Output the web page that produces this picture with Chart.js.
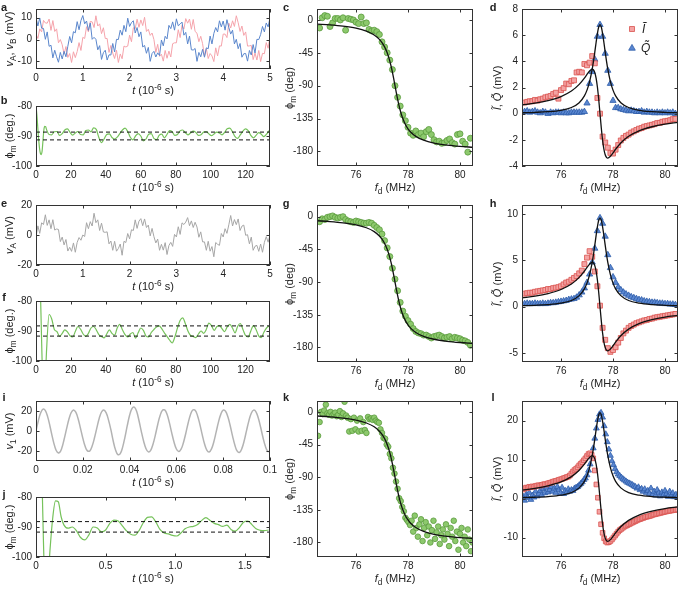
<!DOCTYPE html>
<html>
<head>
<meta charset="utf-8">
<script src="https://cdn.jsdelivr.net/npm/chart.js@4.4.1/dist/chart.umd.min.js"></script>
<style>
  body { margin: 0; background: #fff; }
  #fig { position: relative; width: 685px; height: 591px; overflow: hidden;
         font-family: "Liberation Sans", Arial, Helvetica, sans-serif; color: #222; }
  #fig canvas { position: absolute; }
  .lbl { position: absolute; font-size: 11px; white-space: nowrap; transform: translate(-50%, -50%); }
  .rot { transform: translate(-50%, -50%) rotate(-90deg); }
  .pl { font-weight: bold; font-size: 11px; }
  sub, sup { font-size: 75%; line-height: 0; position: relative; vertical-align: baseline; }
  sub { top: 0.35em; }
  sup { top: -0.45em; }
</style>
</head>
<body>
<div id="fig"></div>
<script>
// ---- time traces (a, e) ----
const tA = [0,0.04,0.08,0.12,0.16,0.2,0.24,0.28,0.32,0.36,0.4,0.44,0.48,0.52,0.56,0.6,0.64,0.68,0.72,0.76,0.8,0.84,0.88,0.92,0.96,
  1,1.04,1.08,1.12,1.16,1.2,1.24,1.28,1.32,1.36,1.4,1.44,1.48,1.52,1.56,1.6,1.64,1.68,1.72,1.76,1.8,1.84,1.88,1.92,1.96,
  2,2.04,2.08,2.12,2.16,2.2,2.24,2.28,2.32,2.36,2.4,2.44,2.48,2.52,2.56,2.6,2.64,2.68,2.72,2.76,2.8,2.84,2.88,2.92,2.96,
  3,3.04,3.08,3.12,3.16,3.2,3.24,3.28,3.32,3.36,3.4,3.44,3.48,3.52,3.56,3.6,3.64,3.68,3.72,3.76,3.8,3.84,3.88,3.92,3.96,
  4,4.04,4.08,4.12,4.16,4.2,4.24,4.28,4.32,4.36,4.4,4.44,4.48,4.52,4.56,4.6,4.64,4.68,4.72,4.76,4.8,4.84,4.88,4.92,4.96,5];
const vA = [2.5,0.5,4.9,3.5,8.8,7.6,7.5,9.4,4.2,8.7,3.7,4.9,-1.5,0.0,-2.4,-6.7,-3.2,-8.2,-6.4,-10.5,-5.6,-8.3,-5.5,-1.4,-5.0,
  1.0,0.5,5.9,3.5,8.3,8.1,5.5,10.9,6.2,7.2,2.7,5.4,0.5,0.5,-5.9,-2.7,-6.2,-8.7,-4.9,-10.5,-6.6,-8.8,-3.0,-3.4,-3.0,
  2.0,-1.0,5.4,5.0,9.3,5.6,9.0,6.4,10.2,3.7,4.7,1.9,3.0,0.0,-5.9,-2.2,-7.7,-6.7,-9.9,-5.0,-8.6,-5.3,-8.0,-1.9,-1.5,
  -1.5,4.5,0.9,6.5,4.8,9.6,7.5,9.4,4.7,9.2,3.7,2.9,-1.0,1.5,-1.9,-7.7,-4.2,-8.7,-6.4,-7.5,-10.1,-3.8,-7.5,-2.9,-3.0,
  2.5,2.5,0.9,7.5,5.3,8.6,6.0,10.9,7.7,3.7,6.2,1.9,3.5,-3.0,-2.9,-2.7,-9.2,-6.2,-9.4,-5.0,-10.1,-6.3,-6.5,-1.4,-4.0,1.5];
const vB = [10.0,6.2,9.9,5.2,5.1,0.1,3.5,-3.1,-2.6,-8.4,-4.9,-7.9,-10.4,-5.9,-8.9,-5.4,-7.9,-3.1,1.4,-1.5,3.6,3.1,8.2,4.5,8.7,
  11.0,7.2,8.5,4.2,7.6,0.1,1.0,0.1,-4.7,-2.8,-9.1,-6.0,-4.9,-9.4,-7.0,-7.1,-1.8,-5.7,0.1,0.0,4.3,2.0,6.5,3.6,9.8,
  6.0,7.8,8.6,3.0,5.5,1.3,3.5,-3.4,-2.7,-6.3,-3.6,-10.0,-6.4,-5.4,-8.0,-6.1,-7.3,-0.2,-2.9,1.5,0.3,6.5,5.0,8.1,4.3,
  9.5,6.3,7.1,8.0,2.0,3.3,-2.0,1.6,-4.7,-4.8,-4.1,-10.0,-5.9,-7.9,-4.5,-8.1,-3.8,-4.2,1.6,-2.0,2.8,5.5,3.5,8.6,5.8,
  8.5,4.3,9.1,5.5,2.5,4.3,-2.0,0.1,-4.2,-1.8,-8.1,-6.5,-6.4,-9.9,-5.0,-7.1,-2.3,-6.2,0.1,0.0,2.3,6.0,3.5,7.6,5.8,10.0];
const vAe = [-1.3,6.1,1.1,8.1,7.0,13.5,6.4,10.1,4.2,10.2,3.3,4.0,3.7,-4.4,-1.4,-6.6,-3.0,-10.7,-8.2,-10.9,-5.3,-11.5,-4.9,-1.7,-3.5,
  0.0,-1.0,8.2,4.2,8.9,6.0,14.5,8.2,10.1,3.0,7.9,2.0,1.8,2.1,-5.9,-4.0,-10.2,-4.2,-10.8,-9.0,-6.0,-13.5,-4.2,-5.0,1.0,
  -2.6,3.5,3.0,10.1,4.4,9.2,10.9,6.2,10.7,5.0,6.6,-0.6,4.4,-1.1,-5.3,-2.7,-10.2,-6.2,-10.1,-5.1,-13.0,-7.0,-4.9,-7.6,0.4,
  -1.3,5.5,0.4,8.1,7.0,8.6,11.6,6.2,9.4,5.0,8.5,5.3,-1.5,2.1,-4.6,-4.6,-10.2,-4.2,-10.8,-7.7,-14.5,-5.0,-6.2,-6.9,1.0,
  -1.3,4.2,1.1,6.8,13.0,6.0,10.3,6.9,10.7,3.0,5.9,6.6,-0.2,0.2,-5.9,-1.4,-10.2,-7.5,-6.9,-10.9,-6.0,-11.5,-4.9,-1.1,-4.8,0.0];

// ---- time trace (i) ----
const tI = [0,0.001,0.002,0.003,0.004,0.005,0.006,0.007,0.008,0.009,
  0.01,0.011,0.012,0.013,0.014,0.015,0.016,0.017,0.018,0.019,
  0.02,0.021,0.022,0.023,0.024,0.025,0.026,0.027,0.028,0.029,
  0.03,0.031,0.032,0.033,0.034,0.035,0.036,0.037,0.038,0.039,
  0.04,0.041,0.042,0.043,0.044,0.045,0.046,0.047,0.048,0.049,
  0.05,0.051,0.052,0.053,0.054,0.055,0.056,0.057,0.058,0.059,
  0.06,0.061,0.062,0.063,0.064,0.065,0.066,0.067,0.068,0.069,
  0.07,0.071,0.072,0.073,0.074,0.075,0.076,0.077,0.078,0.079,
  0.08,0.081,0.082,0.083,0.084,0.085,0.086,0.087,0.088,0.089,
  0.09,0.091,0.092,0.093,0.094,0.095,0.096,0.097,0.098,0.099,0.1];
const v1 = [0,10.3,18.2,21.9,20.4,14.1,4.5,-6.1,-15.3,-20.9,
  -21.7,-17.3,-8.5,1.6,11.2,18.2,21.0,18.8,12.2,2.8,
  -7.1,-15.3,-19.9,-19.9,-15.1,-6.8,3.1,12.5,19.0,21.0,
  18.1,10.9,1.3,-10.0,-19.1,-23.7,-22.7,-16.4,-6.3,5.3,
  15.7,22.4,23.8,19.7,10.5,-0.3,-10.2,-17.6,-20.9,-19.3,
  -13.2,-4.1,6.3,15.2,20.6,21.1,16.7,8.4,-1.8,-11.2,
  -18.0,-20.5,-18.2,-11.7,-2.5,7.8,16.3,21.0,20.7,15.6,
  6.9,-3.4,-12.8,-19.1,-21.0,-17.9,-10.7,-0.9,9.1,16.9,
  20.8,19.8,14.2,5.2,-5.1,-14.3,-20.2,-21.3,-17.4,-9.5,
  0.7,10.4,17.8,20.9,19.2,13.0,3.7,-6.5,-15.1,-20.2,-20.5];

// ---- demodulated phase (b, f, j) ----
const tB = [0,0.5,1,1.5,2,2.5,3,3.5,4,4.5,5,5.5,6,
  7.5,9,10.5,12,13.5,15,16.5,18,19.5,21,22.5,24,25.5,27,28.5,30,31.5,33,34.5,36,37.5,39,40.5,42,43.5,45,46.5,48,49.5,51,
  52.5,54,55.5,57,58.5,60,61.5,63,64.5,66,67.5,69,70.5,72,73.5,75,76.5,78,79.5,81,82.5,84,85.5,87,88.5,90,91.5,93,94.5,
  96,97.5,99,100.5,102,103.5,105,106.5,108,109.5,111,112.5,114,115.5,117,118.5,120,121.5,123,124.5,126,127.5,129,130.5,132,133.5];
const phiB = [-80,-83,-87,-91,-94,-95.8,-96.2,-95,-91.5,-88,-86.8,-86.9,-87.8,
  -89.5,-89.6,-88.6,-88.5,-89.8,-89.2,-88.0,-87.6,-88.8,-89.7,
  -89.0,-88.5,-89.5,-89.6,-88.2,-88.0,-88.6,-87.3,-87.8,-90.5,
  -92.2,-91.0,-89.5,-89.3,-90.5,-91.0,-90.4,-89.2,-88.0,-87.4,
  -88.5,-90.4,-91.3,-90.0,-89.2,-90.0,-91.6,-91.0,-89.4,-89.2,
  -90.8,-91.2,-89.8,-89.4,-90.6,-89.5,-88.2,-88.6,-89.8,-89.5,
  -88.3,-88.0,-88.9,-89.6,-89.0,-88.4,-88.8,-89.8,-89.6,-88.7,
  -88.5,-89.3,-89.9,-89.3,-88.7,-89.0,-89.6,-88.8,-87.6,-87.4,
  -88.6,-90.2,-90.8,-89.6,-88.4,-87.6,-88.2,-89.8,-90.6,-89.8,
  -88.9,-89.4,-90.2,-89.4,-88.2];
const phiF = [-75,-66,-60,-60,-66,-76,-88,-100,-108,-112,-110,-104,-97,
  -84.5,-86.0,-89.5,-90.2,-91.8,-90.8,-89.6,-90.3,-91.6,-92.0,
  -90.2,-88.5,-89.4,-91.0,-91.8,-90.8,-89.0,-88.5,-89.6,-91.2,
  -91.8,-92.3,-91.0,-89.6,-90.8,-91.4,-89.0,-87.8,-89.6,-91.2,
  -92.0,-91.0,-90.5,-92.4,-90.6,-89.0,-89.8,-91.7,-92.0,-90.5,
  -89.5,-88.7,-88.3,-89.2,-90.6,-91.8,-93.0,-94.0,-92.0,-89.0,
  -86.5,-85.6,-87.5,-90.0,-91.5,-91.8,-92.2,-91.0,-90.0,-90.8,
  -89.5,-87.4,-88.2,-89.8,-88.6,-88.2,-89.2,-90.2,-88.6,-87.8,
  -89.0,-90.6,-88.4,-87.5,-89.5,-91.5,-92.0,-90.0,-88.2,-89.5,
  -91.6,-92.2,-90.4,-89.0,-88.3];
const tJ = [0,0.02,0.04,0.06,0.08,0.1,0.12,0.14,0.16,0.18,0.2,
  0.23,0.26,0.29,0.32,0.35,0.38,0.41,0.44,0.47,0.5,0.53,0.56,0.59,0.62,0.65,0.68,0.71,0.74,0.77,0.8,
  0.83,0.86,0.89,0.92,0.95,0.98,1.01,1.04,1.07,1.1,1.13,1.16,1.19,1.22,1.25,1.28,1.31,1.34,1.37,1.4,
  1.43,1.46,1.49,1.52,1.55,1.58,1.61,1.64,1.67];
const phiJ = [-60,-55,-70,-105,-112,-98,-87,-81.3,-81.6,-86.5,-89.3,
  -90.4,-90.0,-91.2,-93.5,-94.3,-92.6,-90.0,-90.3,-91.6,-91.0,-88.8,-87.7,-88.0,-89.6,-91.3,-92.4,-92.7,-91.2,-88.6,-86.8,
  -86.6,-88.3,-90.8,-92.0,-92.3,-92.8,-93.0,-92.0,-90.6,-90.0,-89.8,-89.2,-87.8,-86.9,-87.8,-88.8,-89.2,-89.8,-89.4,-90.8,
  -91.4,-90.2,-88.4,-88.0,-89.2,-90.6,-91.1,-91.2,-91.0];
const dashB = [-88.7, -91.3];
const dashF = [-88.3, -91.7];
const dashJ = [-88.2, -91.7];

// ---- frequency sweeps ----
const freqC = [74.6,74.7,74.8,74.9,75.0,75.1,75.2,75.3,75.4,75.5,75.6,75.7,75.8,75.9,76.0,76.1,76.2,76.3,76.4,76.5,
  76.6,76.7,76.8,76.9,77.0,77.1,77.2,77.3,77.4,77.5,77.6,77.7,77.8,77.9,78.0,78.1,78.2,78.3,78.4,78.5,
  78.6,78.7,78.8,78.9,79.0,79.1,79.2,79.3,79.4,79.5,79.6,79.7,79.8,79.9,80.0,80.1,80.2,80.3,80.4];
const phiC = [-11,3,6,5,-9,-4,2,2,0,3,-14,2,1,0,-3,-5,4,-5,-4,-13,
  -15,-14,-16,-20,-30,-37,-45,-55,-68,-90,-106,-118,-130,-138,-147,-155,-158,-152,-157,-155,
  -160,-153,-150,-157,-164,-167,-166,-169,-168,-165,-163,-168,-170,-157,-156,-166,-170,-181,-162];
const iD = [0.85,0.9,0.95,0.95,1.05,1.0,1.1,1.15,1.25,1.3,1.35,1.5,1.6,1.15,1.8,1.95,2.3,2.25,2.5,2.55,
  3.15,3.2,3.15,3.8,3.7,3.9,4.4,3.85,1.2,0.0,-1.75,-2.2,-2.6,-3.0,-3.05,-2.75,-2.4,-2.05,-1.85,-1.7,
  -1.6,-1.45,-1.35,-1.25,-1.15,-1.1,-1.0,-0.95,-0.9,-0.85,-0.8,-0.72,-0.7,-0.62,-0.58,-0.55,-0.5,-0.42,-0.4];
const qD = [0.15,0.2,0.1,0.15,0.2,0.1,0.05,0.15,0.1,0.0,0.1,0.05,0.1,0.1,0.05,0.1,0.05,0.05,0.1,0.1,
  0.1,0.1,0.1,0.15,0.8,2.3,3.2,4.15,5.9,6.8,5.9,4.6,3.3,2.3,1.0,0.45,0.45,0.35,0.3,0.25,
  0.2,0.25,0.2,0.15,0.15,0.2,0.1,0.15,0.1,0.1,0.05,0.1,0.05,0.1,0.05,0.1,0.05,0.1,0.0];
const phiG = [-7,-3,-4,-1,0,1,-1,-2,-1,0,-4,-6,-7,-8,-6,-7,-8,-9,-9,-8,
  -9,-12,-15,-18,-24,-33,-43,-55,-71,-86,-102,-118,-130,-137,-143,-148,-154,-158,-160,-161,
  -163,-163,-165,-167,-165,-164,-163,-165,-167,-166,-165,-168,-166,-167,-168,-170,-171,-173,-177];
const iH = [1.4,1.45,1.5,1.5,1.6,1.65,1.7,1.75,1.8,1.9,1.9,2.0,2.05,2.1,2.2,2.4,2.6,2.7,2.9,3.1,
  3.3,3.6,3.9,4.6,5.3,6.0,5.4,3.8,2.2,0.1,-2.3,-3.6,-4.5,-4.9,-4.7,-4.4,-3.9,-3.4,-2.9,-2.6,
  -2.3,-2.1,-1.95,-1.8,-1.7,-1.6,-1.5,-1.45,-1.35,-1.3,-1.2,-1.15,-1.1,-1.05,-1.0,-0.95,-0.9,-0.85,-0.8];
const qH = [0.3,0.35,0.3,0.3,0.35,0.3,0.3,0.35,0.3,0.35,0.4,0.4,0.45,0.5,0.55,0.6,0.65,0.75,0.8,0.85,
  1.0,1.25,1.55,2.0,2.6,3.5,4.8,6.3,8.2,9.6,9.0,7.6,5.6,4.2,3.2,2.6,2.1,1.8,1.55,1.35,
  1.2,1.05,0.95,0.85,0.75,0.7,0.6,0.55,0.5,0.45,0.45,0.4,0.35,0.35,0.3,0.3,0.25,0.25,0.2];
const freqK = [74.54,74.60,74.66,74.72,74.78,74.84,74.90,74.96,75.02,75.08,75.14,75.20,75.26,75.32,75.38,75.44,75.50,75.56,75.62,75.68,
  75.74,75.80,75.86,75.92,75.98,76.04,76.10,76.16,76.22,76.28,76.34,76.40,76.46,76.52,76.58,76.64,76.70,76.76,76.82,76.88,
  76.94,77.00,77.06,77.12,77.18,77.24,77.30,77.36,77.42,77.48,77.54,77.60,77.66,77.72,77.78,77.84,77.90,77.96,78.02,78.08,
  78.14,78.20,78.26,78.32,78.38,78.44,78.50,78.56,78.62,78.68,78.74,78.80,78.86,78.92,78.98,79.04,79.10,79.16,79.22,79.28,
  79.34,79.40,79.46,79.52,79.58,79.64,79.70,79.76,79.82,79.88,79.94,80.00,80.06,80.12,80.18,80.24,80.30,80.36,80.42,80.48];
const phiK = [-33,-14,0,-3,2,10,-2,-4,0,-5,-3,-1,-6,-4,1,-7,-2,14,-5,-8,
  -27,-10,-26,-8,-24,-12,-27,-9,-26,-14,-25,-29,-7,-10,-9,-11,-8,-12,-14,-15,
  -24,-29,-36,-37,-45,-48,-58,-64,-77,-85,-96,-106,-119,-123,-131,-137,-146,-149,-152,-156,
  -150,-165,-143,-160,-172,-155,-148,-178,-160,-152,-170,-158,-180,-163,-150,-175,-166,-158,-182,-170,
  -162,-176,-155,-168,-185,-160,-172,-150,-178,-165,-190,-168,-160,-180,-172,-185,-162,-176,-192,-180];
const iL = [2.3,2.6,2.8,2.7,3.0,2.9,3.1,3.0,3.2,3.3,3.4,3.3,3.5,3.6,3.7,3.6,3.9,4.0,4.1,4.3,
  4.4,4.5,4.6,4.8,4.9,5.0,5.2,5.3,5.5,5.6,5.9,6.4,6.9,7.3,7.6,8.0,8.5,8.9,9.3,9.8,
  10.3,10.9,11.4,11.6,11.2,10.3,7.2,3.6,0.2,-3.4,-6.6,-8.8,-10.2,-11.0,-11.3,-11.2,-10.9,-10.5,-10.0,-9.5,
  -9.0,-8.5,-8.1,-7.8,-7.5,-7.2,-7.0,-6.8,-6.6,-6.4,-6.2,-6.0,-5.8,-5.6,-5.4,-5.3,-5.1,-5.0,-4.8,-4.7,
  -4.6,-4.5,-4.4,-4.2,-4.1,-4.0,-3.9,-3.8,-3.7,-3.6,-3.5,-3.4,-3.3,-3.2,-3.15,-3.1,-3.0,-2.95,-2.9,-2.8];
const qL = [0.5,-0.5,1.0,0.2,1.5,-0.3,0.8,0.3,1.8,0.6,1.2,2.0,0.9,2.5,1.4,2.8,1.6,2.2,3.0,1.8,
  2.6,1.5,3.0,2.2,1.4,2.8,1.2,2.0,1.6,2.4,1.8,2.2,2.0,2.6,2.8,3.0,3.4,3.8,4.2,4.8,
  5.2,6.0,7.2,8.8,10.6,12.9,15.4,18.0,20.2,21.6,22.0,20.8,18.6,16.5,14.5,12.6,11.0,9.6,8.6,7.6,
  6.8,6.2,5.8,5.4,5.0,4.7,4.4,4.1,3.9,3.7,3.5,3.2,3.0,2.6,2.9,2.2,2.5,1.8,2.4,1.5,
  2.0,1.2,2.6,1.0,1.8,0.8,2.2,1.4,0.6,1.6,0.9,2.0,1.2,0.5,1.8,0.8,1.4,0.4,1.0,0.6];

// ---- resonance fits ----
const fitFreq = [74.5,75.0,75.5,76.0,76.4,76.7,76.9,77.0,77.1,77.2,77.25,77.3,77.35,77.4,77.45,77.5,
  77.55,77.6,77.65,77.7,77.75,77.8,77.9,78.0,78.1,78.3,78.6,79.0,79.5,80.0,80.5];
const phiFit = [-5.7,-6.8,-8.5,-11.3,-15.3,-20.6,-26.6,-31.0,-36.9,-45.0,-50.2,-56.3,-63.4,-71.6,-80.5,-90.0,
  -99.5,-108.4,-116.6,-123.7,-129.8,-135.0,-143.1,-149.0,-153.4,-159.4,-164.7,-168.7,-171.5,-173.2,-174.3];
const fitQd = [0.07,0.10,0.15,0.26,0.47,0.84,1.36,1.80,2.45,3.40,4.01,4.71,5.44,6.12,6.62,6.80,
  6.62,6.12,5.44,4.71,4.01,3.40,2.45,1.80,1.36,0.84,0.47,0.26,0.15,0.10,0.07];
const fitId = [0.67,0.80,1.00,1.31,1.73,2.24,2.72,3.00,3.26,3.40,3.34,3.14,2.72,2.04,1.10,0.00,
  -1.10,-2.04,-2.72,-3.14,-3.34,-3.40,-3.26,-3.00,-2.72,-2.24,-1.73,-1.31,-1.00,-0.80,-0.67];
const fitQh = [0.10,0.14,0.21,0.37,0.66,1.19,1.92,2.54,3.46,4.80,5.66,6.65,7.68,8.64,9.35,9.60,
  9.35,8.64,7.68,6.65,5.66,4.80,3.46,2.54,1.92,1.19,0.66,0.37,0.21,0.14,0.10];
const fitIh = [0.95,1.13,1.41,1.85,2.44,3.16,3.84,4.24,4.60,4.80,4.72,4.43,3.84,2.88,1.55,0.00,
  -1.55,-2.88,-3.84,-4.43,-4.72,-4.80,-4.60,-4.24,-3.84,-3.16,-2.44,-1.85,-1.41,-1.13,-0.95];
const fitQl = [0.23,0.32,0.49,0.84,1.52,2.72,4.40,5.82,7.93,11.0,12.97,15.24,17.60,19.80,21.42,22.0,
  21.42,19.80,17.60,15.24,12.97,11.0,7.93,5.82,4.40,2.72,1.52,0.84,0.49,0.32,0.23];
const fitIl = [2.17,2.59,3.24,4.24,5.60,7.25,8.80,9.71,10.55,11.0,10.80,10.16,8.80,6.60,3.56,0.00,
  -3.56,-6.60,-8.80,-10.16,-10.80,-11.0,-10.55,-9.71,-8.80,-7.25,-5.60,-4.24,-3.24,-2.59,-2.17];

// ---- ticks ----
const tTicks = [0,1,2,3,4,5];
const tLongTicks = [0,20,40,60,80,100,120];
const tShortTicks = [0,0.02,0.04,0.06,0.08,0.1];
const tShortLabels = ['0','0.02','0.04','0.06','0.08','0.1'];
const tJTicks = [0,0.5,1,1.5];
const tJLabels = ['0','0.5','1.0','1.5'];
const phTicks = [-100,-90,-80];
const fTicks = [76,78,80];
const phiTicks = [-180,-135,-90,-45,0];
const vATicks = [-10,0,10];
const v20Ticks = [-20,0,20];
const iqDTicks = [-4,-2,0,2,4,6,8];
const iqHTicks = [-5,0,5,10];
const iqLTicks = [-10,0,10,20];

// ---- drawing ----
const FONT = '"Liberation Sans", Arial, Helvetica, sans-serif';
Chart.defaults.font.family = FONT;
Chart.defaults.color = '#222';
const fig = document.getElementById('fig');
const PADL = 34, PADT = 6, PADR = 12, PADB = 18;

const GREEN_LINE = '#76c25b', GREEN_FILL = '#8dc96d', GREEN_EDGE = '#5b9b3d';
const RED_FILL = '#f4a3a3', RED_EDGE = '#d9534f';
const BLUE_FILL = '#5a87d1', BLUE_EDGE = '#2d5ca8';

const boxPlugin = {
  id: 'box',
  afterDatasetsDraw(chart) {
    const { ctx, chartArea: a, scales } = chart;
    const len = 3.5;
    ctx.save();
    ctx.strokeStyle = '#333';
    ctx.lineWidth = 1;
    ctx.beginPath();
    scales.x.ticks.forEach(t => {
      const p = Math.round(scales.x.getPixelForValue(t.value)) + 0.5;
      ctx.moveTo(p, a.bottom); ctx.lineTo(p, a.bottom - len);
      ctx.moveTo(p, a.top); ctx.lineTo(p, a.top + len);
    });
    scales.y.ticks.forEach(t => {
      const p = Math.round(scales.y.getPixelForValue(t.value)) + 0.5;
      ctx.moveTo(a.left, p); ctx.lineTo(a.left + len, p);
      ctx.moveTo(a.right, p); ctx.lineTo(a.right - len, p);
    });
    ctx.stroke();
    const l = Math.round(a.left) + 0.5, tp = Math.round(a.top) + 0.5;
    ctx.strokeRect(l, tp, Math.round(a.right) - Math.round(a.left) - 1, Math.round(a.bottom) - Math.round(a.top) - 1);
    ctx.restore();
  }
};

// legend of panel d
const legendPlugin = {
  id: 'iqLegend',
  afterDatasetsDraw(chart) {
    const { ctx, chartArea: a } = chart;
    const x = a.right - 46, y1 = a.top + 20, y2 = a.top + 39;
    ctx.save();
    ctx.lineWidth = 0.8;
    ctx.fillStyle = RED_FILL; ctx.strokeStyle = RED_EDGE;
    ctx.beginPath(); ctx.rect(x - 2.5, y1 - 2.5, 5, 5); ctx.fill(); ctx.stroke();
    ctx.fillStyle = BLUE_FILL; ctx.strokeStyle = BLUE_EDGE;
    ctx.beginPath(); ctx.moveTo(x, y2 - 3.6); ctx.lineTo(x + 3.3, y2 + 2.2); ctx.lineTo(x - 3.3, y2 + 2.2); ctx.closePath();
    ctx.fill(); ctx.stroke();
    ctx.fillStyle = '#222';
    ctx.font = 'italic 12px ' + FONT;
    ctx.textBaseline = 'middle';
    ctx.fillText('\u0128', x + 10, y1 + 1);
    ctx.fillText('Q\u0303', x + 9, y2 + 1);
    ctx.restore();
  }
};

const xy = (xs, ys) => xs.map((x, i) => ({ x, y: ys[i] }));
const line = (xs, ys, color, width, extra) => Object.assign({
  data: xy(xs, ys), showLine: true, pointRadius: 0, borderColor: color, borderWidth: width, tension: 0, fill: false
}, extra || {});
const smooth = { cubicInterpolationMode: 'monotone' };
const pts = (xs, ys, style, r, fill, edge) => ({
  data: xy(xs, ys), showLine: false, pointStyle: style, pointRadius: r,
  backgroundColor: fill, borderColor: edge, pointBackgroundColor: fill, pointBorderColor: edge, pointBorderWidth: 0.8
});
const dash = (x0, x1, y) => line([x0, x1], [y, y], '#111', 1, { borderDash: [4, 3] });

function scaleOpts(range, ticks, labels, isX) {
  return {
    type: 'linear', min: range[0], max: range[1],
    grid: { display: false, drawTicks: false }, border: { display: false },
    ticks: {
      font: { size: 10 }, color: '#222', padding: isX ? 3 : 4, maxRotation: 0, autoSkip: false,
      callback: (v, i) => labels ? labels[i] : String(ticks[i])
    },
    afterBuildTicks: s => { s.ticks = ticks.map(v => ({ value: v })); },
    afterFit: s => {
      if (isX) s.height = PADB; else s.width = PADL;
      s.paddingLeft = 0; s.paddingRight = 0; s.paddingTop = 0; s.paddingBottom = 0;
    }
  };
}

function panel(rect, ax, datasets, extra) {
  const [L, T, R, B] = rect;
  const w = R - L + PADL + PADR, h = B - T + PADT + PADB;
  const cv = document.createElement('canvas');
  cv.width = w; cv.height = h;
  cv.style.left = (L - PADL) + 'px'; cv.style.top = (T - PADT) + 'px';
  cv.style.width = w + 'px'; cv.style.height = h + 'px';
  fig.appendChild(cv);
  return new Chart(cv, {
    type: 'scatter',
    data: { datasets },
    options: {
      responsive: false, animation: false, events: [],
      layout: { padding: { left: 0, top: PADT, right: PADR, bottom: 0 } },
      plugins: { legend: { display: false }, tooltip: { enabled: false } },
      scales: {
        x: scaleOpts(ax.x, ax.xt, ax.xl, true),
        y: scaleOpts(ax.y, ax.yt, ax.yl, false)
      }
    },
    plugins: [boxPlugin].concat(extra || [])
  });
}

function text(html, x, y, cls) {
  const d = document.createElement('div');
  d.className = 'lbl' + (cls ? ' ' + cls : '');
  d.style.left = x + 'px'; d.style.top = y + 'px';
  d.innerHTML = html;
  fig.appendChild(d);
}

// panel rectangles [left, top, right, bottom]
const rA = [36, 9, 270, 69], rB = [36, 106, 270, 166], rC = [317, 9, 473, 166], rD = [522, 9, 678, 166];
const rE = [36, 205, 270, 265], rF = [36, 301, 270, 361], rG = [317, 205, 473, 362], rH = [522, 205, 678, 362];
const rI = [36, 401, 270, 461], rJ = [36, 497, 270, 557], rK = [317, 401, 473, 557], rL = [522, 401, 678, 557];

const fRange = [74.5, 80.5];
const bRange = [0, 134];

// a
panel(rA, { x: [0, 5], xt: tTicks, y: [-13.5, 14], yt: vATicks }, [
  line(tA, vB, '#5a86cc', 1),
  line(tA, vA, '#f5a3ab', 1)
]);
// b
panel(rB, { x: bRange, xt: tLongTicks, y: [-100, -80], yt: phTicks }, [
  dash(bRange[0], bRange[1], dashB[0]), dash(bRange[0], bRange[1], dashB[1]),
  line(tB, phiB, GREEN_LINE, 1.2, smooth)
]);
// c
panel(rC, { x: fRange, xt: fTicks, y: [-200, 15], yt: phiTicks }, [
  line(fitFreq, phiFit, '#111', 1.3, smooth),
  pts(freqC, phiC, 'circle', 3, GREEN_FILL, GREEN_EDGE)
]);
// d
panel(rD, { x: fRange, xt: fTicks, y: [-4, 8], yt: iqDTicks }, [
  line(fitFreq, fitQd, '#111', 1.3, smooth),
  line(fitFreq, fitId, '#111', 1.3, smooth),
  pts(freqC, iD, 'rect', 3.5, RED_FILL, RED_EDGE),
  pts(freqC, qD, 'triangle', 3.6, BLUE_FILL, BLUE_EDGE)
], [legendPlugin]);
// e
panel(rE, { x: [0, 5], xt: tTicks, y: [-20, 20], yt: v20Ticks }, [
  line(tA, vAe, '#a6a6a6', 1)
]);
// f
panel(rF, { x: bRange, xt: tLongTicks, y: [-100, -80], yt: phTicks }, [
  dash(bRange[0], bRange[1], dashF[0]), dash(bRange[0], bRange[1], dashF[1]),
  line(tB, phiF, GREEN_LINE, 1.2, smooth)
]);
// g
panel(rG, { x: fRange, xt: fTicks, y: [-200, 16], yt: phiTicks }, [
  line(fitFreq, phiFit, '#111', 1.3, smooth),
  pts(freqC, phiG, 'circle', 3, GREEN_FILL, GREEN_EDGE)
]);
// h
panel(rH, { x: fRange, xt: fTicks, y: [-6, 11], yt: iqHTicks }, [
  line(fitFreq, fitQh, '#111', 1.3, smooth),
  line(fitFreq, fitIh, '#111', 1.3, smooth),
  pts(freqC, iH, 'rect', 3.5, RED_FILL, RED_EDGE),
  pts(freqC, qH, 'triangle', 3.6, BLUE_FILL, BLUE_EDGE)
]);
// i
panel(rI, { x: [0, 0.1], xt: tShortTicks, xl: tShortLabels, y: [-30, 30], yt: v20Ticks }, [
  line(tI, v1, '#b3b3b3', 1.5, { tension: 0.4 })
]);
// j
panel(rJ, { x: [0, 1.68], xt: tJTicks, xl: tJLabels, y: [-100, -80], yt: phTicks }, [
  dash(0, 1.68, dashJ[0]), dash(0, 1.68, dashJ[1]),
  line(tJ, phiJ, GREEN_LINE, 1.2, smooth)
]);
// k
panel(rK, { x: fRange, xt: fTicks, y: [-200, 15], yt: phiTicks }, [
  line(fitFreq, phiFit, '#111', 1.3, smooth),
  pts(freqK, phiK, 'circle', 2.8, GREEN_FILL, GREEN_EDGE)
]);
// l
panel(rL, { x: fRange, xt: fTicks, y: [-15, 25], yt: iqLTicks }, [
  line(fitFreq, fitQl, '#111', 1.3, smooth),
  line(fitFreq, fitIl, '#111', 1.3, smooth),
  pts(freqK, iL, 'rect', 3.3, RED_FILL, RED_EDGE),
  pts(freqK, qL, 'triangle', 3.4, BLUE_FILL, BLUE_EDGE)
]);

// axis titles
const tLab = '<i>t</i> (10<sup>-6</sup> s)';
const fLab = '<i>f</i><sub>d</sub> (MHz)';
const phiLab1 = '\u03d5<sub>m</sub> (deg.)';
const phiLab2 = '\u03d5<sub>m</sub> (deg)';
const iqLab = '<i>\u0128</i>, <i>Q\u0303</i> (mV)';
const titles = [
  [rA, '<i>v</i><sub>A</sub>, <i>v</i><sub>B</sub> (mV)', tLab, 9],
  [rB, phiLab1, tLab, 9],
  [rC, phiLab2, fLab, 289],
  [rD, iqLab, fLab, 497],
  [rE, '<i>v</i><sub>A</sub> (mV)', tLab, 9],
  [rF, phiLab1, tLab, 9],
  [rG, phiLab2, fLab, 289],
  [rH, iqLab, fLab, 497],
  [rI, '<i>v</i><sub>1</sub> (mV)', tLab, 9],
  [rJ, phiLab1, tLab, 9],
  [rK, phiLab2, fLab, 289],
  [rL, iqLab, fLab, 497]
];
titles.forEach(([r, yt, xt, yx]) => {
  text(yt, yx, (r[1] + r[3]) / 2, 'rot');
  text(xt, (r[0] + r[2]) / 2, r[3] + 21);
});

// panel letters
[['a', 4, 7], ['b', 4, 100], ['c', 286, 7], ['d', 493, 7],
 ['e', 4, 203], ['f', 4, 297], ['g', 286, 203], ['h', 493, 203],
 ['i', 4, 397], ['j', 4, 494], ['k', 286, 397], ['l', 493, 397]].forEach(([s, x, y]) => text(s, x, y, 'pl'));
</script>
</body>
</html>
